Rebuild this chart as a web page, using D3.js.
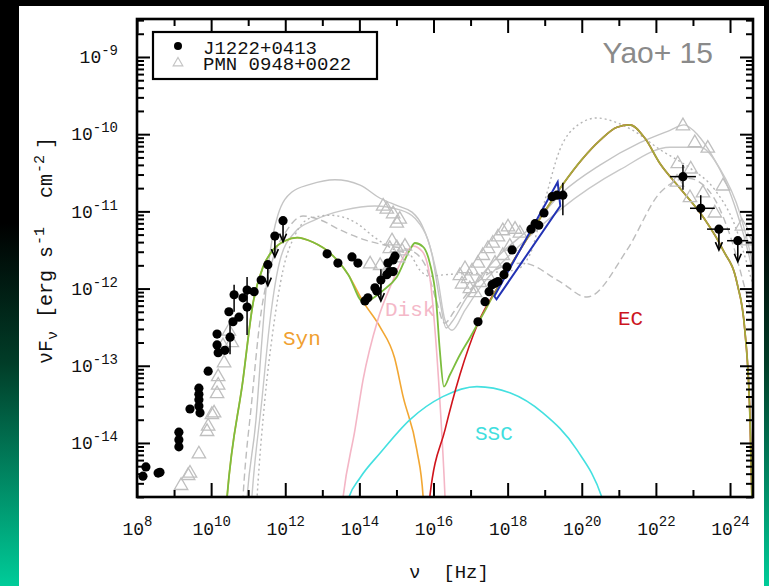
<!DOCTYPE html>
<html>
<head>
<meta charset="utf-8">
<script src="https://cdn.jsdelivr.net/npm/d3@7"></script>
<style>
  body { margin: 0; background: #000; }
  svg { display: block; }
</style>
</head>
<body>
<svg id="chart" width="769" height="586"></svg>
<script>
// all values are log10(nu [Hz]), log10(nuFnu [erg s-1 cm-2])

// J1222+0413 model components
var synCurve = [[10.35,-15.2],[10.43,-14.70],[10.86,-13.18],[11.13,-12.19],[11.40,-11.72],[11.67,-11.50],[12.0,-11.38],
  [12.32,-11.34],[12.75,-11.40],[13.21,-11.54],[13.70,-11.82],[14.10,-12.17],[14.56,-12.50],[14.95,-12.90],
  [15.18,-13.40],[15.55,-14.09],[15.72,-14.70],[15.78,-15.2]];
var diskCurve = [[13.45,-15.2],[13.56,-14.70],[13.88,-13.83],[14.10,-13.18],[14.50,-12.40],[14.91,-11.89],
  [15.20,-11.58],[15.45,-11.45],[15.70,-11.52],[15.90,-11.85],[16.04,-12.54],[16.17,-13.44],[16.31,-14.70],[16.35,-15.2]];
var sscCurve = [[13.6,-14.9],[13.72,-14.70],[14.02,-14.45],[14.56,-14.13],[15.36,-13.70],[16.25,-13.40],[17.17,-13.27],
  [18.06,-13.35],[18.95,-13.61],[19.87,-14.09],[20.54,-14.70],[20.7,-14.95]];
var ecCurve = [[15.82,-15.2],[15.90,-14.70],[16.31,-13.83],[16.71,-13.12],[17.20,-12.45],[17.80,-11.93],[18.40,-11.45],
  [19.00,-11.00],[19.49,-10.65],[20.00,-10.33],[20.49,-10.08],[20.95,-9.91],[21.30,-9.88],[21.70,-10.05],
  [22.11,-10.38],[22.65,-10.70],[23.27,-11.07],[23.81,-11.50],[24.19,-11.93],[24.40,-12.54],[24.54,-13.70],[24.59,-14.70]];
var totalCurve = [[10.35,-15.2],[10.43,-14.70],[10.86,-13.18],[11.13,-12.19],[11.40,-11.72],[11.67,-11.50],[12.0,-11.38],
  [12.32,-11.34],[12.75,-11.40],[13.21,-11.54],[13.70,-11.82],[14.10,-12.17],[14.65,-12.02],[15.01,-11.85],
  [15.36,-11.50],[15.50,-11.41],[15.72,-11.46],[15.90,-11.67],[16.07,-12.15],[16.17,-12.80],[16.28,-13.27],
  [16.44,-13.12],[16.71,-12.86],[16.98,-12.64],[17.20,-12.45],[17.80,-11.93],[18.40,-11.45],[19.00,-11.00],
  [19.49,-10.65],[20.00,-10.33],[20.49,-10.08],[20.95,-9.91],[21.30,-9.88],[21.70,-10.05],[22.11,-10.38],
  [22.65,-10.70],[23.27,-11.07],[23.81,-11.50],[24.19,-11.93],[24.40,-12.54],[24.54,-13.70],[24.59,-14.70]];

// X-ray bowtie edges
var bowtieHi = [[17.64,-12.10],[19.35,-10.62]];
var bowtieLo = [[17.70,-12.14],[19.42,-10.93]];

// PMN 0948+0022 model curves
var pmnSolidA = [[10.9,-15.2],[10.97,-14.70],[11.21,-13.70],[11.37,-12.67],[11.53,-11.76],[11.80,-11.05],[12.18,-10.75],
  [12.67,-10.65],[13.34,-10.59],[14.02,-10.66],[14.56,-10.83],[15.04,-10.93],[15.42,-11.01],[15.69,-11.18],
  [15.96,-11.56],[16.17,-12.15],[16.34,-12.51],[16.50,-12.43],[16.85,-12.15],[17.25,-11.86],[17.79,-11.56],
  [18.60,-11.22],[19.49,-10.75],[20.49,-10.40],[21.57,-10.11],[22.38,-9.95],[22.76,-9.88],[23.13,-10.01],
  [23.51,-10.27],[23.86,-10.59],[24.21,-11.05],[24.54,-11.63],[24.7,-12.0]];
var pmnSolidB = [[11.03,-15.2],[11.10,-14.70],[11.37,-13.44],[11.59,-12.41],[11.86,-11.63],[12.26,-11.27],[12.80,-11.11],
  [13.61,-10.98],[14.42,-10.93],[15.09,-10.98],[15.50,-11.09],[15.85,-11.37],[16.12,-11.89],[16.31,-12.41],
  [16.50,-12.54],[16.85,-12.28],[17.25,-11.99],[18.33,-11.44],[19.41,-10.98],[21.03,-10.46],[22.38,-10.17],
  [23.19,-10.17],[23.73,-10.45],[24.27,-11.03],[24.59,-11.63],[24.7,-11.9]];
var pmnDashed = [[10.8,-15.2],[10.86,-14.70],[11.10,-13.44],[11.32,-12.41],[11.64,-11.66],[12.05,-11.24],[12.48,-11.06],
  [12.94,-11.11],[13.48,-11.24],[14.15,-11.37],[14.82,-11.45],[15.36,-11.50],[15.77,-11.69],[16.07,-12.15],
  [16.30,-12.45],[16.55,-12.30],[16.98,-12.02],[17.79,-11.73],[18.41,-11.67],[19.41,-11.91],[20.14,-12.11],
  [21.22,-11.50],[22.11,-10.76],[22.86,-10.57],[23.46,-10.75],[24.00,-11.31],[24.49,-12.15],[24.7,-12.5]];
var pmnDotted = [[11.18,-15.2],[11.24,-14.70],[11.45,-13.44],[11.67,-12.54],[11.94,-11.76],[12.26,-11.31],[12.67,-11.09],
  [13.21,-11.05],[13.88,-11.14],[14.42,-11.34],[14.96,-11.50],[15.36,-11.56],[15.63,-11.76],[15.90,-11.84],
  [16.31,-11.82],[17.25,-11.80],[18.20,-11.76],[18.60,-11.56],[19.01,-10.85],[19.41,-10.20],[19.90,-9.88],
  [20.41,-9.79],[20.89,-9.84],[21.38,-9.95],[22.11,-10.20],[22.92,-10.44],[23.59,-10.72],[24.13,-11.18],
  [24.54,-11.82],[24.7,-12.1]];

// J1222+0413 data
var j1222Points = [[8.16,-14.43],[8.24,-14.31],[8.57,-14.39],[8.62,-14.38],[9.13,-13.86],[9.13,-13.96],[9.13,-14.05],
  [9.43,-13.56],[9.67,-13.29],[9.67,-13.37],[9.67,-13.44],[9.67,-13.52],[9.70,-13.61],[9.92,-13.07],[10.16,-12.59],
  [10.16,-12.73],[10.19,-12.83],[10.37,-12.80],[10.48,-12.30],[10.51,-12.63],[10.59,-12.43],[10.62,-12.08],
  [10.75,-12.37],[10.86,-12.12],[10.97,-12.24],[10.97,-12.02],[11.16,-12.04],[11.35,-11.89],[11.53,-11.69],
  [11.72,-11.32],[11.94,-11.12],[13.13,-11.55],[13.42,-11.67],[13.80,-11.59],[13.96,-11.67],[14.15,-12.16],
  [14.23,-12.12],[14.42,-11.99],[14.47,-12.03],[14.58,-11.89],[14.74,-11.82],[14.82,-11.78],[14.77,-11.67],
  [14.91,-11.63],[14.96,-11.58],[14.91,-11.78],[17.20,-12.43],[17.39,-12.17],[17.50,-12.04],[17.58,-11.95],
  [17.66,-11.93],[17.74,-11.91],[17.90,-11.82],[17.98,-11.72],[18.12,-11.50],[18.63,-11.23],[18.74,-11.16],
  [18.84,-11.18],[18.98,-11.02],[19.20,-10.81],[19.33,-10.79],[19.49,-10.79],[22.73,-10.55],[23.21,-10.96],
  [23.70,-11.23],[24.21,-11.38]];
var j1222Limits = [[11.53,-11.69],[11.72,-11.32],[11.94,-11.12],[14.58,-11.89],[23.70,-11.23],[24.21,-11.38]];
var j1222ErrY = [[10.62,-11.95,-12.30],[10.97,-11.85,-12.60],[10.51,-12.45,-12.85],[14.58,-11.75,-12.00],
  [19.49,-10.63,-11.05],[22.73,-10.40,-10.72],[23.21,-10.79,-11.11]];
var j1222ErrX = [[-10.55,22.38,23.08],[-10.96,22.92,23.59],[-11.23,23.38,24.00],[-11.38,23.92,24.49]];

// PMN 0948+0022 data
var pmnPoints = [[9.19,-14.54],[9.38,-14.41],[9.43,-14.38],[9.67,-14.13],[9.89,-13.84],[9.92,-13.77],[10.02,-13.62],
  [10.08,-13.60],[10.16,-13.35],[10.19,-13.24],[10.19,-13.13],[10.35,-12.95],[10.32,-12.73],[10.56,-12.69],
  [10.48,-12.54],[14.64,-10.92],[14.74,-10.96],[14.91,-11.02],[15.09,-11.09],[15.01,-11.14],[14.88,-11.37],
  [14.82,-11.47],[15.01,-11.46],[15.15,-11.50],[15.04,-11.59],[15.23,-11.44],[14.29,-11.67],[14.56,-11.69],
  [14.74,-11.76],[16.71,-11.82],[16.77,-11.93],[16.85,-11.73],[16.93,-11.86],[16.98,-11.99],[17.04,-11.76],
  [17.12,-12.04],[17.20,-11.66],[17.25,-11.91],[17.33,-11.56],[17.47,-11.47],[17.47,-11.82],[17.60,-11.40],
  [17.66,-11.66],[17.74,-11.32],[17.87,-11.24],[17.87,-11.56],[18.01,-11.19],[18.06,-11.44],[18.20,-11.22],
  [18.33,-11.27],[22.73,-9.88],[23.05,-10.10],[23.40,-10.17],[22.59,-10.37],[22.94,-10.44],[22.57,-10.61],
  [22.92,-10.81],[23.27,-10.75],[23.59,-11.01],[23.81,-10.66],[24.32,-11.18],[24.48,-11.37]];

var xMajor = [8, 10, 12, 14, 16, 18, 20, 22, 24];
var xMinor = [9, 11, 13, 15, 17, 19, 21, 23];
var yMajor = [-14, -13, -12, -11, -10, -9];

var mono = '"Liberation Mono", "DejaVu Sans Mono", monospace';
var plot = {left: 137, right: 753, top: 19, bottom: 497};

var svg = d3.select('#chart');
var pow = function (v) { return Math.pow(10, v); };

var x = d3.scaleLog().domain([1e8, pow(24.62)]).range([plot.left, plot.right]);
var y = d3.scaleLog().domain([pow(-14.70), pow(-8.508)]).range([plot.bottom, plot.top]);
var px = function (d) { return x(pow(d[0])); };
var py = function (d) { return y(pow(d[1])); };
var line = d3.line().x(px).y(py).curve(d3.curveMonotoneX);

// background: dark frame with green fading edge, white panel
var defs = svg.append('defs');
var edge = defs.append('linearGradient').attr('id', 'edge').attr('x1', 0).attr('y1', 0).attr('x2', 0).attr('y2', 1);
edge.append('stop').attr('offset', 0).attr('stop-color', '#000');
edge.append('stop').attr('offset', 0.38).attr('stop-color', '#000');
edge.append('stop').attr('offset', 0.62).attr('stop-color', '#013d28');
edge.append('stop').attr('offset', 1).attr('stop-color', '#00cc99');
svg.append('rect').attr('width', 769).attr('height', 586).attr('fill', 'url(#edge)');
svg.append('rect').attr('x', 19).attr('y', 0).attr('width', 745).attr('height', 6).attr('fill', '#000');
svg.append('rect').attr('x', 19).attr('y', 6).attr('width', 745).attr('height', 580).attr('fill', '#fff');

defs.append('clipPath').attr('id', 'plotclip').append('rect')
  .attr('x', plot.left).attr('y', plot.top)
  .attr('width', plot.right - plot.left).attr('height', plot.bottom - plot.top);

// total model: green over syn/disk, olive where it lies on EC
var split = (x(pow(17.2)) - plot.left) / (plot.right - plot.left);
var tg = defs.append('linearGradient').attr('id', 'totalgrad')
  .attr('gradientUnits', 'userSpaceOnUse')
  .attr('x1', plot.left).attr('x2', plot.right).attr('y1', 0).attr('y2', 0);
tg.append('stop').attr('offset', split).attr('stop-color', '#7cbd3e');
tg.append('stop').attr('offset', split + 0.03).attr('stop-color', '#a3ab3c');

var g = svg.append('g').attr('clip-path', 'url(#plotclip)');

// PMN 0948+0022 models
var grayLines = [
  {d: pmnSolidA, dash: null, c: '#c4c4c4'},
  {d: pmnSolidB, dash: null, c: '#c8c8c8'},
  {d: pmnDashed, dash: '7,4', c: '#bdbdbd'},
  {d: pmnDotted, dash: '2,3', c: '#b5b5b5'}
];
g.selectAll('path.pmn-model').data(grayLines).enter().append('path')
  .attr('class', 'pmn-model')
  .attr('d', function (l) { return line(l.d); })
  .attr('fill', 'none').attr('stroke', function (l) { return l.c; })
  .attr('stroke-width', 1.4)
  .attr('stroke-dasharray', function (l) { return l.dash; });

// J1222+0413 components
var comps = [
  {d: synCurve, c: '#f2a733'},
  {d: diskCurve, c: '#f4b6c6'},
  {d: sscCurve, c: '#44e0e0'},
  {d: ecCurve, c: '#d0141c'}
];
g.selectAll('path.comp').data(comps).enter().append('path')
  .attr('class', 'comp')
  .attr('d', function (l) { return line(l.d); })
  .attr('fill', 'none').attr('stroke', function (l) { return l.c; })
  .attr('stroke-width', 1.6);

g.append('path').attr('d', line(totalCurve))
  .attr('fill', 'none').attr('stroke', 'url(#totalgrad)').attr('stroke-width', 1.8);

// triangles
var tri = d3.symbol().type(d3.symbolTriangle).size(78);
g.selectAll('path.pmn').data(pmnPoints).enter().append('path')
  .attr('class', 'pmn')
  .attr('transform', function (d) { return 'translate(' + px(d) + ',' + (py(d) + 1) + ')'; })
  .attr('d', tri)
  .attr('fill', 'none').attr('stroke', '#bfbfbf').attr('stroke-width', 1.3);

// X-ray bowtie
var bow = bowtieHi.concat(bowtieLo.slice().reverse());
g.append('path').attr('d', d3.line().x(px).y(py)(bow) + 'Z')
  .attr('fill', 'none').attr('stroke', '#2232b4').attr('stroke-width', 2);

// J1222+0413 error bars, limits, points
g.selectAll('line.ey').data(j1222ErrY).enter().append('line')
  .attr('x1', function (d) { return x(pow(d[0])); }).attr('x2', function (d) { return x(pow(d[0])); })
  .attr('y1', function (d) { return y(pow(d[1])); }).attr('y2', function (d) { return y(pow(d[2])); })
  .attr('stroke', '#000').attr('stroke-width', 1.5);
g.selectAll('line.ex').data(j1222ErrX).enter().append('line')
  .attr('x1', function (d) { return x(pow(d[1])); }).attr('x2', function (d) { return x(pow(d[2])); })
  .attr('y1', function (d) { return y(pow(d[0])); }).attr('y2', function (d) { return y(pow(d[0])); })
  .attr('stroke', '#000').attr('stroke-width', 1.5);

var lim = g.selectAll('g.limit').data(j1222Limits).enter().append('g')
  .attr('transform', function (d) { return 'translate(' + px(d) + ',' + py(d) + ')'; });
lim.append('line').attr('y2', 20).attr('stroke', '#000').attr('stroke-width', 1.6);
lim.append('path').attr('d', 'M-3.5,13 L0,21 L3.5,13').attr('fill', 'none')
  .attr('stroke', '#000').attr('stroke-width', 1.6);

g.selectAll('circle.j1222').data(j1222Points).enter().append('circle')
  .attr('class', 'j1222')
  .attr('cx', px).attr('cy', py).attr('r', 4.6).attr('fill', '#000');

// component labels
var labels = [
  {t: 'Syn', x: 283, y: 345, c: '#f0a030'},
  {t: 'Disk', x: 385, y: 316, c: '#f4b8c8'},
  {t: 'EC', x: 618, y: 325, c: '#cc1420'},
  {t: 'SSC', x: 475, y: 440, c: '#40dede'}
];
svg.selectAll('text.comp-label').data(labels).enter().append('text')
  .attr('class', 'comp-label')
  .attr('x', function (l) { return l.x; }).attr('y', function (l) { return l.y; })
  .attr('fill', function (l) { return l.c; })
  .attr('font-family', mono).attr('font-size', 21)
  .text(function (l) { return l.t; });

// axes: ticks inward on all four sides
function styleAxis(sel) {
  sel.select('.domain').remove();
  sel.selectAll('.tick line').attr('stroke', '#000').attr('stroke-width', 2);
}
function expLabels(sel, rise, supSize) {
  sel.attr('font-family', mono);
  sel.selectAll('.tick text').each(function (d) {
    var t = d3.select(this);
    var e = Math.round(Math.log10(d));
    t.text(null).attr('font-size', 18).attr('fill', '#111');
    t.append('tspan').text('10');
    t.append('tspan').attr('dy', -rise).attr('font-size', supSize).text(e);
  });
}
var none = function () { return ''; };
var yMinor = [];
d3.range(-15, -8).forEach(function (e) {
  d3.range(2, 10).forEach(function (k) {
    var v = k * pow(e);
    if (v > pow(-14.70) && v < pow(-8.508)) yMinor.push(v);
  });
});

svg.append('g').attr('transform', 'translate(0,' + plot.bottom + ')')
  .call(d3.axisBottom(x).tickValues(xMajor.map(pow)).tickSize(-14).tickPadding(25))
  .call(styleAxis).call(expLabels, 9, 14);
svg.append('g').attr('transform', 'translate(0,' + plot.bottom + ')')
  .call(d3.axisBottom(x).tickValues(xMinor.map(pow)).tickSize(-7).tickFormat(none)).call(styleAxis);
svg.append('g').attr('transform', 'translate(0,' + plot.top + ')')
  .call(d3.axisTop(x).tickValues(xMajor.map(pow)).tickSize(-14).tickFormat(none)).call(styleAxis);
svg.append('g').attr('transform', 'translate(0,' + plot.top + ')')
  .call(d3.axisTop(x).tickValues(xMinor.map(pow)).tickSize(-7).tickFormat(none)).call(styleAxis);

svg.append('g').attr('transform', 'translate(' + plot.left + ',0)')
  .call(d3.axisLeft(y).tickValues(yMajor.map(pow)).tickSize(-13).tickPadding(19))
  .call(styleAxis).call(expLabels, 8, 14);
svg.append('g').attr('transform', 'translate(' + plot.left + ',0)')
  .call(d3.axisLeft(y).tickValues(yMinor).tickSize(-7).tickFormat(none)).call(styleAxis);
svg.append('g').attr('transform', 'translate(' + plot.right + ',0)')
  .call(d3.axisRight(y).tickValues(yMajor.map(pow)).tickSize(-13).tickFormat(none)).call(styleAxis);
svg.append('g').attr('transform', 'translate(' + plot.right + ',0)')
  .call(d3.axisRight(y).tickValues(yMinor).tickSize(-7).tickFormat(none)).call(styleAxis);

svg.append('rect').attr('x', plot.left).attr('y', plot.top)
  .attr('width', plot.right - plot.left).attr('height', plot.bottom - plot.top)
  .attr('fill', 'none').attr('stroke', '#000').attr('stroke-width', 2.6);

// axis titles
svg.append('text').attr('x', 449).attr('y', 578).attr('text-anchor', 'middle')
  .attr('font-family', mono).attr('font-size', 19).attr('fill', '#111')
  .style('white-space', 'pre').text('\u03bd  [Hz]');

// rotated y title, pieces placed along the axis (local x = -screen y)
var yTitle = [
  {t: '\u03bdF', at: 364, dy: 0, fs: 20},
  {t: '\u03bd', at: 340, dy: 5, fs: 15},
  {t: '[erg', at: 318, dy: -5, fs: 20},
  {t: 's', at: 258, dy: 0, fs: 20},
  {t: '-1', at: 245, dy: -8, fs: 15},
  {t: 'cm', at: 198, dy: 8, fs: 20},
  {t: '-2', at: 173, dy: -8, fs: 15},
  {t: ']', at: 149, dy: 8, fs: 20}
];
var yt = svg.append('text').attr('transform', 'translate(52,0) rotate(-90)')
  .attr('font-family', mono).attr('fill', '#111');
yt.selectAll('tspan').data(yTitle).enter().append('tspan')
  .attr('x', function (p) { return -p.at; })
  .attr('dy', function (p) { return p.dy; })
  .attr('font-size', function (p) { return p.fs; })
  .text(function (p) { return p.t; });

// legend
var lg = svg.append('g');
lg.append('rect').attr('x', 153).attr('y', 32).attr('width', 224).attr('height', 47)
  .attr('fill', '#fff').attr('stroke', '#000').attr('stroke-width', 2.2);
lg.append('circle').attr('cx', 178).attr('cy', 46).attr('r', 4).attr('fill', '#000');
lg.append('path').attr('transform', 'translate(178,63)')
  .attr('d', d3.symbol().type(d3.symbolTriangle).size(40))
  .attr('fill', 'none').attr('stroke', '#c4c4c4').attr('stroke-width', 1.2);
lg.append('text').attr('x', 203).attr('y', 54).attr('font-family', mono).attr('font-size', 19)
  .attr('fill', '#111').text('J1222+0413');
lg.append('text').attr('x', 203).attr('y', 70).attr('font-family', mono).attr('font-size', 19)
  .attr('fill', '#111').text('PMN 0948+0022');

svg.append('text').attr('x', 713).attr('y', 63).attr('text-anchor', 'end')
  .attr('font-family', '"Liberation Sans", Arial, sans-serif').attr('font-size', 30)
  .attr('fill', '#8a8a8a').text('Yao+ 15');
</script>
</body>
</html>
